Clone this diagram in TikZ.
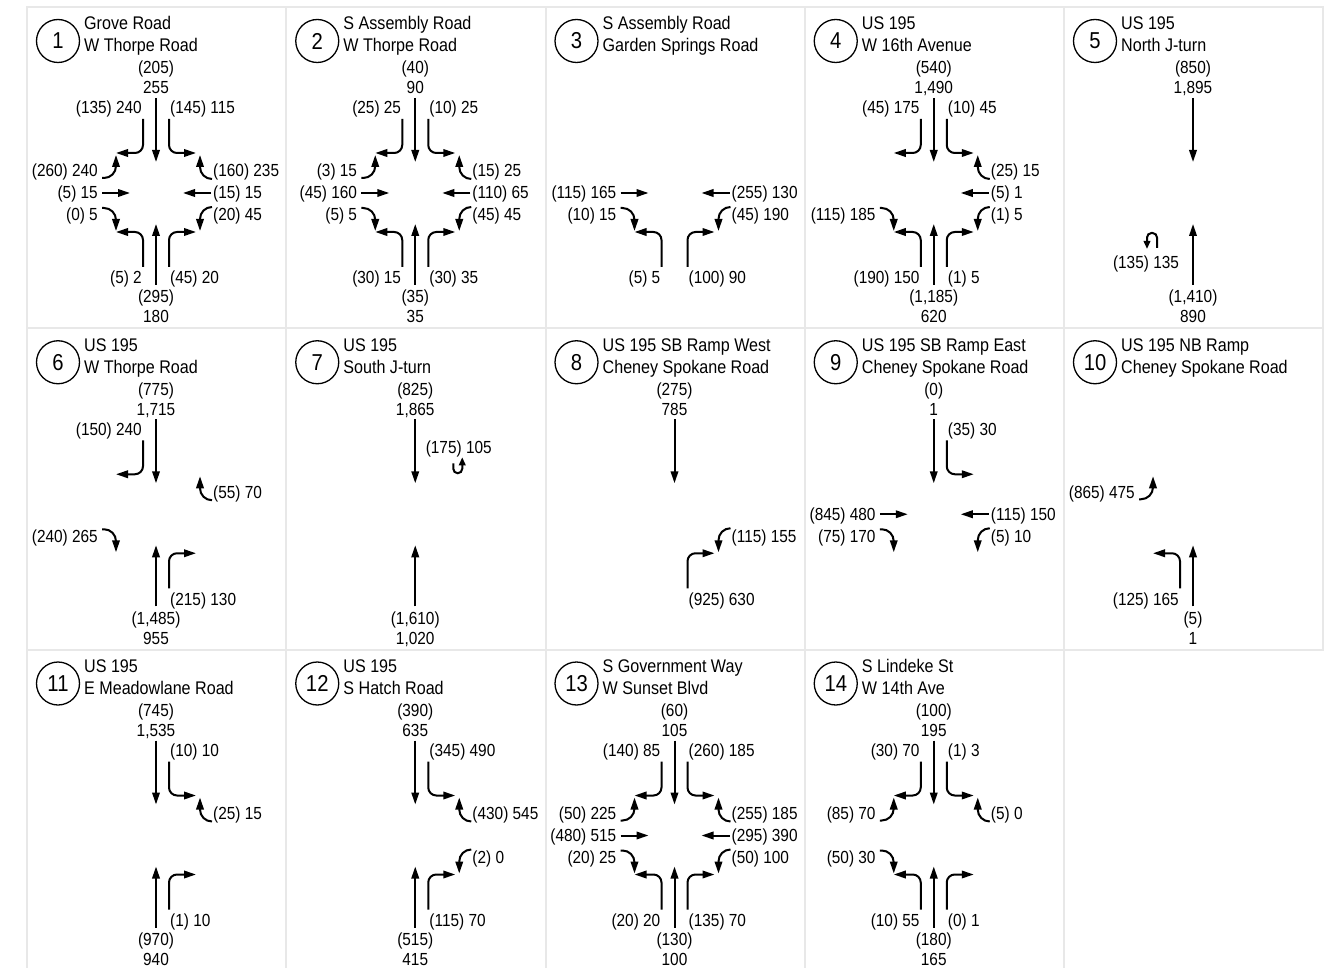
\documentclass[tikz,border=0pt]{standalone}
\usepackage{fontspec}
\setmainfont{Liberation Sans}[FakeStretch=0.88]
\usetikzlibrary{arrows.meta}

\tikzset{
  cellbox/.style={draw=black!9, line width=2pt},
  lbl/.style={inner sep=0pt, font=\fontsize{17.5}{20}\selectfont},
  street/.style={inner sep=0pt, font=\fontsize{18.3}{21}\selectfont},
  numcircle/.style={circle, draw, line width=1.3pt, minimum size=43pt, inner sep=0pt,
                    font=\fontsize{23}{25}\selectfont},
  mv/.style={line width=2pt, -{Triangle[length=12pt,width=7.5pt]}, rounded corners=8pt},
  mvside/.style={mv, rounded corners=12pt},
  mvu/.style={line width=2pt, -{Triangle[length=8pt,width=6.5pt]}, rounded corners=4.5pt},
}

% panel header: circled number and the two street names
\newcommand\hdr[3]{%
  \node[numcircle] (\pid-num) at (-98,-152) {#1};
  \node[street, anchor=base west] (\pid-st1) at (-72,-163) {#2};
  \node[street, anchor=base west] (\pid-st2) at (-72,-141) {#3};
}
% through movements
\newcommand\mvNth[2]{%
  \node[lbl, anchor=base] (\pid-n1) at (0,-119) {#1};
  \node[lbl, anchor=base] (\pid-n2) at (0,-99) {#2};
  \draw[mv] (0,-95) -- (0,-31);
}
\newcommand\mvSth[2]{%
  \node[lbl, anchor=base] (\pid-s1) at (0,110) {#1};
  \node[lbl, anchor=base] (\pid-s2) at (0,130) {#2};
  \draw[mv] (0,92) -- (0,31);
}
\newcommand\mvWth[1]{%
  \node[lbl, anchor=base east] (\pid-w) at (-58,6) {#1};
  \draw[mv] (-54,0) -- (-26,0);
}
\newcommand\mvEth[1]{%
  \node[lbl, anchor=base west] (\pid-e) at (57,6) {#1};
  \draw[mv] (55,0) -- (27,0);
}
% turns from the north and south approaches
\newcommand\mvNW[1]{%
  \node[lbl, anchor=base east] (\pid-nw) at (-14,-79) {#1};
  \draw[mv] (-13,-74) -- (-13,-40) -- (-40,-40);
}
\newcommand\mvNE[1]{%
  \node[lbl, anchor=base west] (\pid-ne) at (14,-79) {#1};
  \draw[mv] (13,-74) -- (13,-40) -- (40,-40);
}
\newcommand\mvSW[1]{%
  \node[lbl, anchor=base east] (\pid-sw) at (-14,91) {#1};
  \draw[mv] (-13,74) -- (-13,39) -- (-40,39);
}
\newcommand\mvSE[1]{%
  \node[lbl, anchor=base west] (\pid-se) at (14,91) {#1};
  \draw[mv] (13,74) -- (13,39) -- (40,39);
}
% turns from the west and east approaches
\newcommand\mvWup[1]{%
  \node[lbl, anchor=base east] (\pid-wu) at (-58,-16) {#1};
  \draw[mvside] (-54,-15) -- (-40,-15) -- (-40,-38);
}
\newcommand\mvWdn[1]{%
  \node[lbl, anchor=base east] (\pid-wd) at (-58,28) {#1};
  \draw[mvside] (-54,15) -- (-40,15) -- (-40,38);
}
\newcommand\mvEup[1]{%
  \node[lbl, anchor=base west] (\pid-eu) at (57,-16) {#1};
  \draw[mvside] (56,-14) -- (44,-14) -- (44,-38);
}
\newcommand\mvEdn[1]{%
  \node[lbl, anchor=base west] (\pid-ed) at (57,28) {#1};
  \draw[mvside] (56,14) -- (44,14) -- (44,38);
}

\begin{document}
\begin{tikzpicture}[x=1pt, y=-1pt]
\useasboundingbox (0,0) rectangle (1336,968);

% cell frames
\foreach \c/\r in {0/0,1/0,2/0,3/0,4/0,0/1,1/1,2/1,3/1,4/1,0/2,1/2,2/2,3/2}
  \draw[cellbox] ({27+259.25*\c},{7+321.25*\r}) rectangle ++(259.25,321.25);

% 1
\begin{scope}[shift={(156,193)}]\def\pid{p1}
  \hdr{1}{Grove Road}{W Thorpe Road}
  \mvNth{(205)}{255} \mvNW{(135) 240} \mvNE{(145) 115}
  \mvWup{(260) 240} \mvWth{(5) 15} \mvWdn{(0) 5}
  \mvEup{(160) 235} \mvEth{(15) 15} \mvEdn{(20) 45}
  \mvSW{(5) 2} \mvSE{(45) 20} \mvSth{(295)}{180}
\end{scope}

% 2
\begin{scope}[shift={(415.25,193)}]\def\pid{p2}
  \hdr{2}{S Assembly Road}{W Thorpe Road}
  \mvNth{(40)}{90} \mvNW{(25) 25} \mvNE{(10) 25}
  \mvWup{(3) 15} \mvWth{(45) 160} \mvWdn{(5) 5}
  \mvEup{(15) 25} \mvEth{(110) 65} \mvEdn{(45) 45}
  \mvSW{(30) 15} \mvSE{(30) 35} \mvSth{(35)}{35}
\end{scope}

% 3
\begin{scope}[shift={(674.5,193)}]\def\pid{p3}
  \hdr{3}{S Assembly Road}{Garden Springs Road}
  \mvWth{(115) 165} \mvWdn{(10) 15}
  \mvEth{(255) 130} \mvEdn{(45) 190}
  \mvSW{(5) 5} \mvSE{(100) 90}
\end{scope}

% 4
\begin{scope}[shift={(933.75,193)}]\def\pid{p4}
  \hdr{4}{US 195}{W 16th Avenue}
  \mvNth{(540)}{1,490} \mvNW{(45) 175} \mvNE{(10) 45}
  \mvEup{(25) 15} \mvEth{(5) 1} \mvEdn{(1) 5}
  \mvWdn{(115) 185}
  \mvSW{(190) 150} \mvSE{(1) 5} \mvSth{(1,185)}{620}
\end{scope}

% 5
\begin{scope}[shift={(1193,193)}]\def\pid{p5}
  \hdr{5}{US 195}{North J-turn}
  \mvNth{(850)}{1,895}
  \mvSth{(1,410)}{890}
  \node[lbl, anchor=base] (p5-u) at (-47,76) {(135) 135};
  \draw[mvu] (-36,55) -- (-36,40) -- (-46,40) -- (-46,56);
\end{scope}

% 6
\begin{scope}[shift={(156,514.25)}]\def\pid{p6}
  \hdr{6}{US 195}{W Thorpe Road}
  \mvNth{(775)}{1,715} \mvNW{(150) 240}
  \mvEup{(55) 70}
  \mvWdn{(240) 265}
  \mvSE{(215) 130} \mvSth{(1,485)}{955}
\end{scope}

% 7
\begin{scope}[shift={(415.25,514.25)}]\def\pid{p7}
  \hdr{7}{US 195}{South J-turn}
  \mvNth{(825)}{1,865}
  \mvSth{(1,610)}{1,020}
  \node[lbl, anchor=base] (p7-u) at (43.5,-61) {(175) 105};
  \draw[mvu] (38,-51) -- (38,-41) -- (47,-41) -- (47,-57);
\end{scope}

% 8
\begin{scope}[shift={(674.5,514.25)}]\def\pid{p8}
  \hdr{8}{US 195 SB Ramp West}{Cheney Spokane Road}
  \mvNth{(275)}{785}
  \mvEdn{(115) 155}
  \mvSE{(925) 630}
\end{scope}

% 9
\begin{scope}[shift={(933.75,514.25)}]\def\pid{p9}
  \hdr{9}{US 195 SB Ramp East}{Cheney Spokane Road}
  \mvNth{(0)}{1} \mvNE{(35) 30}
  \mvWth{(845) 480} \mvWdn{(75) 170}
  \mvEth{(115) 150} \mvEdn{(5) 10}
\end{scope}

% 10
\begin{scope}[shift={(1193,514.25)}]\def\pid{p10}
  \hdr{10}{US 195 NB Ramp}{Cheney Spokane Road}
  \mvWup{(865) 475}
  \mvSW{(125) 165} \mvSth{(5)}{1}
\end{scope}

% 11
\begin{scope}[shift={(156,835.5)}]\def\pid{p11}
  \hdr{11}{US 195}{E Meadowlane Road}
  \mvNth{(745)}{1,535} \mvNE{(10) 10}
  \mvEup{(25) 15}
  \mvSE{(1) 10} \mvSth{(970)}{940}
\end{scope}

% 12
\begin{scope}[shift={(415.25,835.5)}]\def\pid{p12}
  \hdr{12}{US 195}{S Hatch Road}
  \mvNth{(390)}{635} \mvNE{(345) 490}
  \mvEup{(430) 545} \mvEdn{(2) 0}
  \mvSE{(115) 70} \mvSth{(515)}{415}
\end{scope}

% 13
\begin{scope}[shift={(674.5,835.5)}]\def\pid{p13}
  \hdr{13}{S Government Way}{W Sunset Blvd}
  \mvNth{(60)}{105} \mvNW{(140) 85} \mvNE{(260) 185}
  \mvWup{(50) 225} \mvWth{(480) 515} \mvWdn{(20) 25}
  \mvEup{(255) 185} \mvEth{(295) 390} \mvEdn{(50) 100}
  \mvSW{(20) 20} \mvSE{(135) 70} \mvSth{(130)}{100}
\end{scope}

% 14
\begin{scope}[shift={(933.75,835.5)}]\def\pid{p14}
  \hdr{14}{S Lindeke St}{W 14th Ave}
  \mvNth{(100)}{195} \mvNW{(30) 70} \mvNE{(1) 3}
  \mvWup{(85) 70} \mvWdn{(50) 30}
  \mvEup{(5) 0}
  \mvSW{(10) 55} \mvSE{(0) 1} \mvSth{(180)}{165}
\end{scope}

\end{tikzpicture}
\end{document}
